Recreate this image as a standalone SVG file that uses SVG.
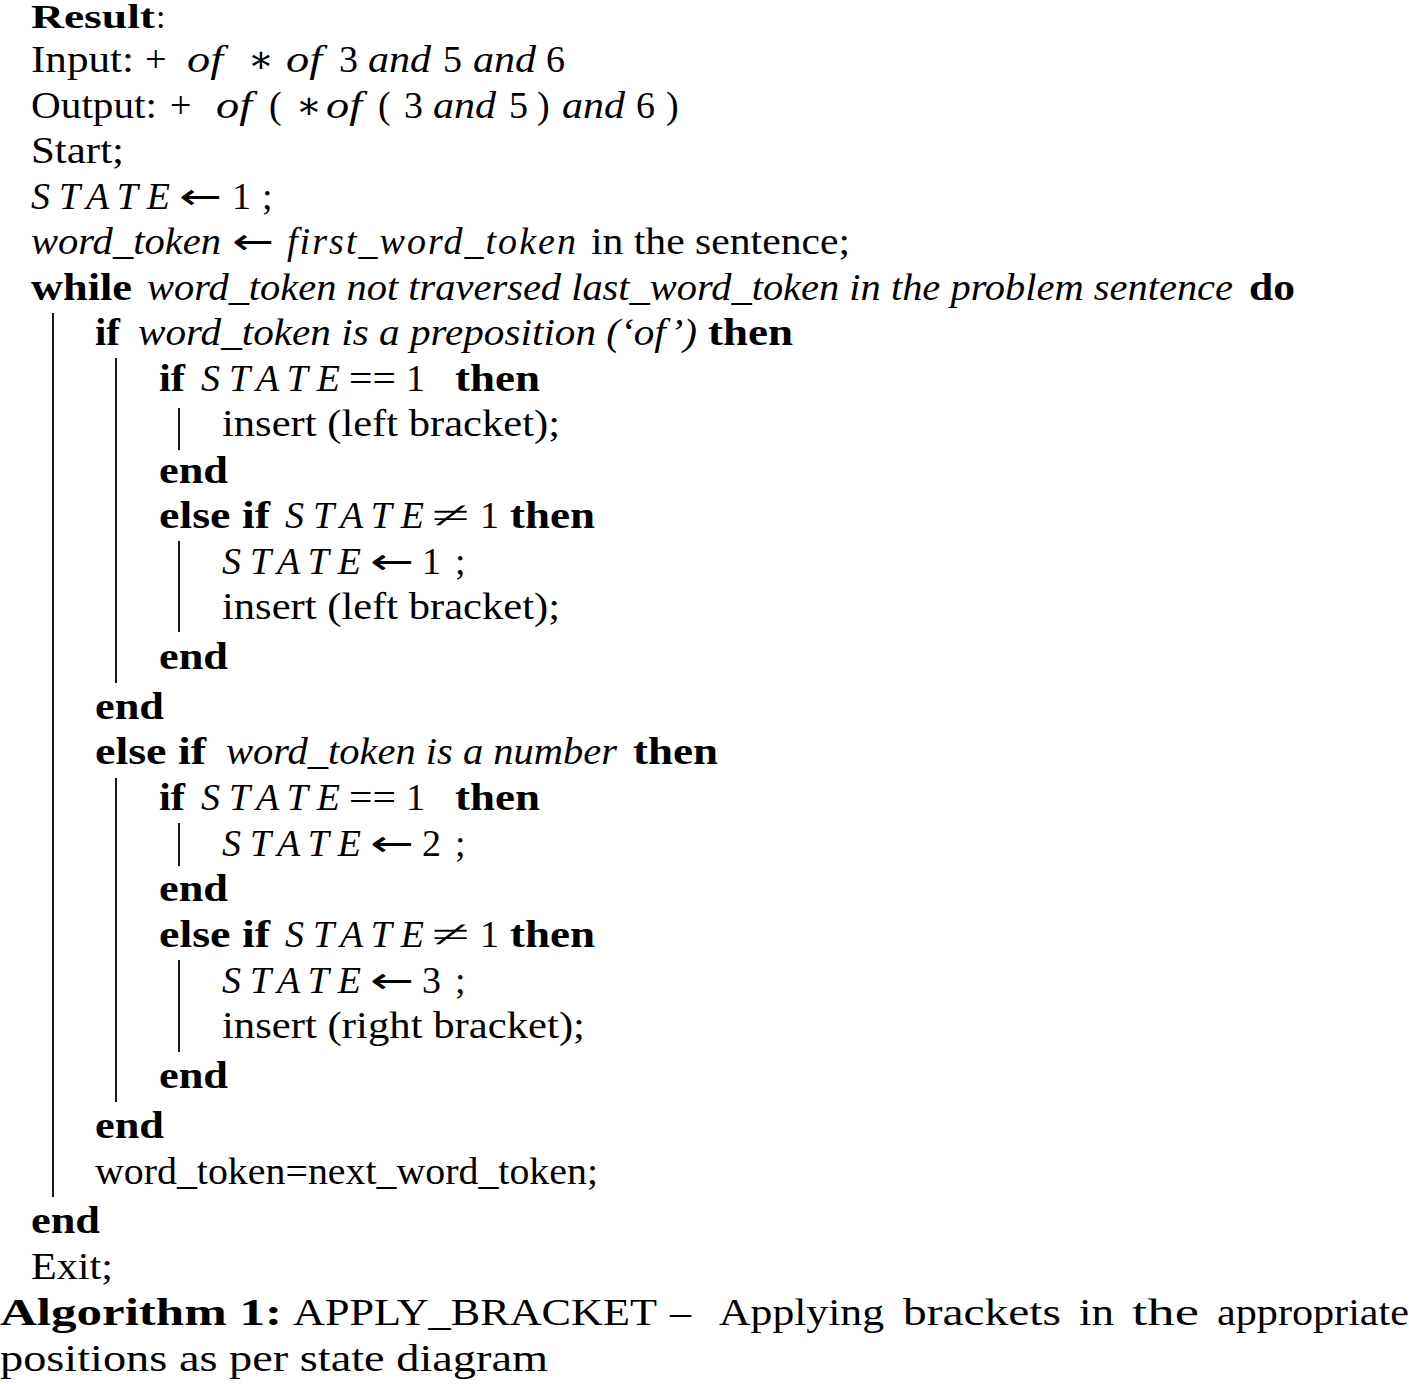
<svg xmlns="http://www.w3.org/2000/svg" width="1409" height="1384" viewBox="0 0 1409 1384">
<style>
text { font-family: "Liberation Serif", "DejaVu Serif", serif; font-size: 38px; fill: #000; }
.b { font-weight: bold; }
.i { font-style: italic; }
.ar { font-family: "DejaVu Sans", "Liberation Sans", sans-serif; font-size: 36px; }
.bar { stroke: #000; stroke-width: 1.8; fill: none; }
</style>
<rect width="1409" height="1384" fill="#fff"/>
<g id="bars">
<line class="bar" x1="53" y1="313" x2="53" y2="1197"/>
<line class="bar" x1="116" y1="358" x2="116" y2="683"/>
<line class="bar" x1="116" y1="778" x2="116" y2="1102"/>
<line class="bar" x1="179" y1="408" x2="179" y2="450"/>
<line class="bar" x1="179" y1="541" x2="179" y2="632"/>
<line class="bar" x1="179" y1="823" x2="179" y2="866"/>
<line class="bar" x1="179" y1="960" x2="179" y2="1052"/>
</g>
<g id="lines">
<text y="28" style="font-size:34px"><tspan class="b" x="31" textLength="124" lengthAdjust="spacingAndGlyphs">Result</tspan><tspan x="156">:</tspan></text>
<text y="72"><tspan x="31" textLength="103" lengthAdjust="spacingAndGlyphs">Input:</tspan><tspan x="145">+</tspan><tspan class="i" x="187" textLength="36" lengthAdjust="spacingAndGlyphs">of</tspan><tspan x="248">∗</tspan><tspan class="i" x="286" textLength="36" lengthAdjust="spacingAndGlyphs">of</tspan><tspan x="339">3</tspan><tspan class="i" x="368" textLength="63" lengthAdjust="spacingAndGlyphs">and</tspan><tspan x="443">5</tspan><tspan class="i" x="473" textLength="63" lengthAdjust="spacingAndGlyphs">and</tspan><tspan x="546">6</tspan></text>
<text y="118"><tspan x="31" textLength="126" lengthAdjust="spacingAndGlyphs">Output:</tspan><tspan x="170">+</tspan><tspan class="i" x="216" textLength="36" lengthAdjust="spacingAndGlyphs">of</tspan><tspan x="269">(</tspan><tspan x="296">∗</tspan><tspan class="i" x="326" textLength="36" lengthAdjust="spacingAndGlyphs">of</tspan><tspan x="378">(</tspan><tspan x="404">3</tspan><tspan class="i" x="433" textLength="63" lengthAdjust="spacingAndGlyphs">and</tspan><tspan x="509">5</tspan><tspan x="537">)</tspan><tspan class="i" x="562" textLength="63" lengthAdjust="spacingAndGlyphs">and</tspan><tspan x="636">6</tspan><tspan x="666">)</tspan></text>
<text y="163"><tspan x="31" textLength="93" lengthAdjust="spacingAndGlyphs">Start;</tspan></text>
<text y="209"><tspan class="i" x="31" textLength="139" lengthAdjust="spacing">STATE</tspan><tspan class="ar" x="179" textLength="43" lengthAdjust="spacingAndGlyphs">←</tspan><tspan x="232">1</tspan><tspan x="262">;</tspan></text>
<text y="254"><tspan class="i" x="31" textLength="190" lengthAdjust="spacingAndGlyphs">word_token</tspan><tspan class="ar" x="232" textLength="42" lengthAdjust="spacingAndGlyphs">←</tspan><tspan class="i" x="287" textLength="289" lengthAdjust="spacing">first_word_token</tspan><tspan x="591" textLength="259" lengthAdjust="spacingAndGlyphs">in the sentence;</tspan></text>
<text y="300"><tspan class="b" x="31" textLength="101" lengthAdjust="spacingAndGlyphs">while</tspan><tspan class="i" x="147" textLength="1086" lengthAdjust="spacingAndGlyphs">word_token not traversed last_word_token in the problem sentence</tspan><tspan class="b" x="1249" textLength="46" lengthAdjust="spacingAndGlyphs">do</tspan></text>
<text y="345"><tspan class="b" x="95" textLength="25" lengthAdjust="spacingAndGlyphs">if</tspan><tspan class="i" x="138" textLength="559" lengthAdjust="spacingAndGlyphs">word_token is a preposition (‘of’)</tspan><tspan class="b" x="708" textLength="85" lengthAdjust="spacingAndGlyphs">then</tspan></text>
<text y="391"><tspan class="b" x="159" textLength="26" lengthAdjust="spacingAndGlyphs">if</tspan><tspan class="i" x="201" textLength="139" lengthAdjust="spacing">STATE</tspan><tspan x="349" textLength="47" lengthAdjust="spacingAndGlyphs">==</tspan><tspan x="406">1</tspan><tspan class="b" x="455" textLength="85" lengthAdjust="spacingAndGlyphs">then</tspan></text>
<text y="436"><tspan x="222" textLength="338" lengthAdjust="spacingAndGlyphs">insert (left bracket);</tspan></text>
<text y="483"><tspan class="b" x="159" textLength="69" lengthAdjust="spacingAndGlyphs">end</tspan></text>
<text y="528"><tspan class="b" x="159" textLength="111" lengthAdjust="spacingAndGlyphs">else if</tspan><tspan class="i" x="285" textLength="139" lengthAdjust="spacing">STATE</tspan><tspan x="432" textLength="38" lengthAdjust="spacingAndGlyphs">≠</tspan><tspan x="480">1</tspan><tspan class="b" x="510" textLength="85" lengthAdjust="spacingAndGlyphs">then</tspan></text>
<text y="574"><tspan class="i" x="222" textLength="139" lengthAdjust="spacing">STATE</tspan><tspan class="ar" x="370" textLength="44" lengthAdjust="spacingAndGlyphs">←</tspan><tspan x="422">1</tspan><tspan x="455">;</tspan></text>
<text y="619"><tspan x="222" textLength="338" lengthAdjust="spacingAndGlyphs">insert (left bracket);</tspan></text>
<text y="669"><tspan class="b" x="159" textLength="69" lengthAdjust="spacingAndGlyphs">end</tspan></text>
<text y="719"><tspan class="b" x="95" textLength="69" lengthAdjust="spacingAndGlyphs">end</tspan></text>
<text y="764"><tspan class="b" x="95" textLength="111" lengthAdjust="spacingAndGlyphs">else if</tspan><tspan class="i" x="226" textLength="391" lengthAdjust="spacingAndGlyphs">word_token is a number</tspan><tspan class="b" x="633" textLength="85" lengthAdjust="spacingAndGlyphs">then</tspan></text>
<text y="810"><tspan class="b" x="159" textLength="26" lengthAdjust="spacingAndGlyphs">if</tspan><tspan class="i" x="201" textLength="139" lengthAdjust="spacing">STATE</tspan><tspan x="349" textLength="47" lengthAdjust="spacingAndGlyphs">==</tspan><tspan x="406">1</tspan><tspan class="b" x="455" textLength="85" lengthAdjust="spacingAndGlyphs">then</tspan></text>
<text y="856"><tspan class="i" x="222" textLength="139" lengthAdjust="spacing">STATE</tspan><tspan class="ar" x="370" textLength="44" lengthAdjust="spacingAndGlyphs">←</tspan><tspan x="422">2</tspan><tspan x="455">;</tspan></text>
<text y="901"><tspan class="b" x="159" textLength="69" lengthAdjust="spacingAndGlyphs">end</tspan></text>
<text y="947"><tspan class="b" x="159" textLength="111" lengthAdjust="spacingAndGlyphs">else if</tspan><tspan class="i" x="285" textLength="139" lengthAdjust="spacing">STATE</tspan><tspan x="432" textLength="38" lengthAdjust="spacingAndGlyphs">≠</tspan><tspan x="480">1</tspan><tspan class="b" x="510" textLength="85" lengthAdjust="spacingAndGlyphs">then</tspan></text>
<text y="993"><tspan class="i" x="222" textLength="139" lengthAdjust="spacing">STATE</tspan><tspan class="ar" x="370" textLength="44" lengthAdjust="spacingAndGlyphs">←</tspan><tspan x="422">3</tspan><tspan x="455">;</tspan></text>
<text y="1038"><tspan x="222" textLength="363" lengthAdjust="spacingAndGlyphs">insert (right bracket);</tspan></text>
<text y="1088"><tspan class="b" x="159" textLength="69" lengthAdjust="spacingAndGlyphs">end</tspan></text>
<text y="1138"><tspan class="b" x="95" textLength="69" lengthAdjust="spacingAndGlyphs">end</tspan></text>
<text y="1184"><tspan x="95" textLength="503" lengthAdjust="spacingAndGlyphs">word_token=next_word_token;</tspan></text>
<text y="1233"><tspan class="b" x="31" textLength="69" lengthAdjust="spacingAndGlyphs">end</tspan></text>
<text y="1279"><tspan x="31" textLength="82" lengthAdjust="spacingAndGlyphs">Exit;</tspan></text>
<text y="1325"><tspan class="b" x="0" textLength="282" lengthAdjust="spacingAndGlyphs">Algorithm 1:</tspan><tspan x="293" textLength="364" lengthAdjust="spacingAndGlyphs">APPLY_BRACKET</tspan><tspan x="670" textLength="21" lengthAdjust="spacingAndGlyphs">–</tspan><tspan x="719" textLength="165" lengthAdjust="spacingAndGlyphs">Applying</tspan><tspan x="903" textLength="158" lengthAdjust="spacingAndGlyphs">brackets</tspan><tspan x="1079" textLength="35" lengthAdjust="spacingAndGlyphs">in</tspan><tspan x="1132" textLength="67" lengthAdjust="spacingAndGlyphs">the</tspan><tspan x="1217" textLength="192" lengthAdjust="spacingAndGlyphs">appropriate</tspan></text>
<text y="1371"><tspan x="0" textLength="548" lengthAdjust="spacingAndGlyphs">positions as per state diagram</tspan></text>
</g>
</svg>
